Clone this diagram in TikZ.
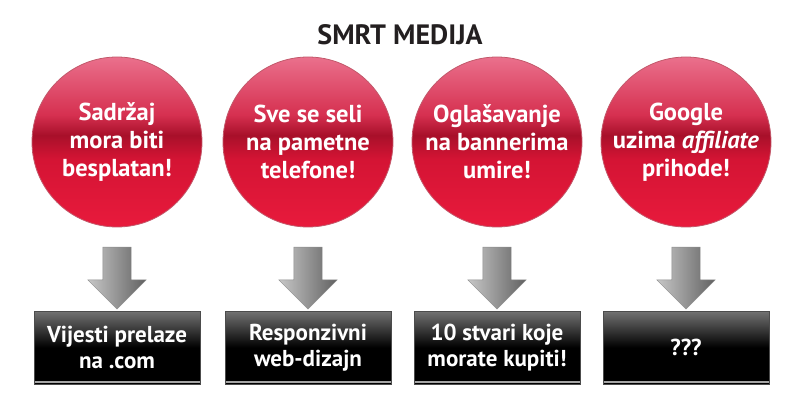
\documentclass[tikz,border=0pt]{standalone}
\usepackage{fontspec}
\setmainfont{PT Sans}
\usetikzlibrary{positioning, shapes.arrows}

\definecolor{ballTop}{RGB}{234,112,140}
\definecolor{ballUp}{RGB}{214,48,80}
\definecolor{ballDark}{RGB}{168,16,42}
\definecolor{ballLow}{RGB}{212,20,52}
\definecolor{ballBot}{RGB}{232,26,60}
\definecolor{titleInk}{RGB}{35,31,32}

\pgfdeclareverticalshading{redball}{100bp}{color(0bp)=(ballBot); color(25bp)=(ballBot);
  color(45bp)=(ballLow); color(52bp)=(ballDark); color(58bp)=(ballUp); color(75bp)=(ballTop); color(100bp)=(ballTop)}
\pgfdeclareverticalshading{blackbox}{100bp}{color(0bp)=(black); color(25bp)=(black);
  color(50bp)=(black); color(75bp)=(black!55); color(100bp)=(black!55)}

\begin{document}
\begin{tikzpicture}[x=1pt, y=1pt,
  ball/.style={circle, minimum size=170pt, inner sep=0pt, shading=redball,
    draw=ballDark!70, line width=0.8pt, text=white, align=center,
    font=\fontsize{24.5}{28}\selectfont\bfseries},
  downarrow/.style={single arrow, shape border rotate=270, minimum height=62pt,
    minimum width=58pt, single arrow head extend=15pt, single arrow head indent=0pt,
    inner xsep=14pt, inner ysep=0pt, left color=black!22, right color=black!62,
    draw=black!45, line width=0.4pt},
  result/.style={rectangle, minimum width=166pt, minimum height=73pt, inner sep=0pt,
    shading=blackbox, draw=black!70, line width=0.8pt, text=white, align=center,
    font=\fontsize{23}{26}\selectfont\bfseries,
    path picture={\draw[black!35, line width=1.5pt]
      ([yshift=2pt]path picture bounding box.south west) --
      ([yshift=2pt]path picture bounding box.south east);}}]
\useasboundingbox (0,0) rectangle (800,418);

\node[text=titleInk, font=\fontsize{28}{32}\selectfont\bfseries] (title) at(400,383){SMRT MEDIJA};

\node[ball] (c1) at(117,276){Sadržaj\\mora biti\\besplatan!};
\node[ball] (c2) at(308,276){Sve se seli\\na pametne\\telefone!};
\node[ball] (c3) at(497,276){Oglašavanje\\na bannerima\\umire!};
\node[ball] (c4) at(686,276){Google\\uzima \textit{affiliate}\\prihode!};

\node[downarrow] (a1) at(117,147){};
\node[downarrow] (a2) at(308,147){};
\node[downarrow] (a3) at(497,147){};
\node[downarrow] (a4) at(686,147){};

\node[result] (b1) at(117,70.5){Vijesti prelaze\\na .com};
\node[result] (b2) at(308,70.5){Responzivni\\web-dizajn};
\node[result] (b3) at(497,70.5){10 stvari koje\\morate kupiti!};
\node[result] (b4) at(686,70.5){???};
\end{tikzpicture}
\end{document}
